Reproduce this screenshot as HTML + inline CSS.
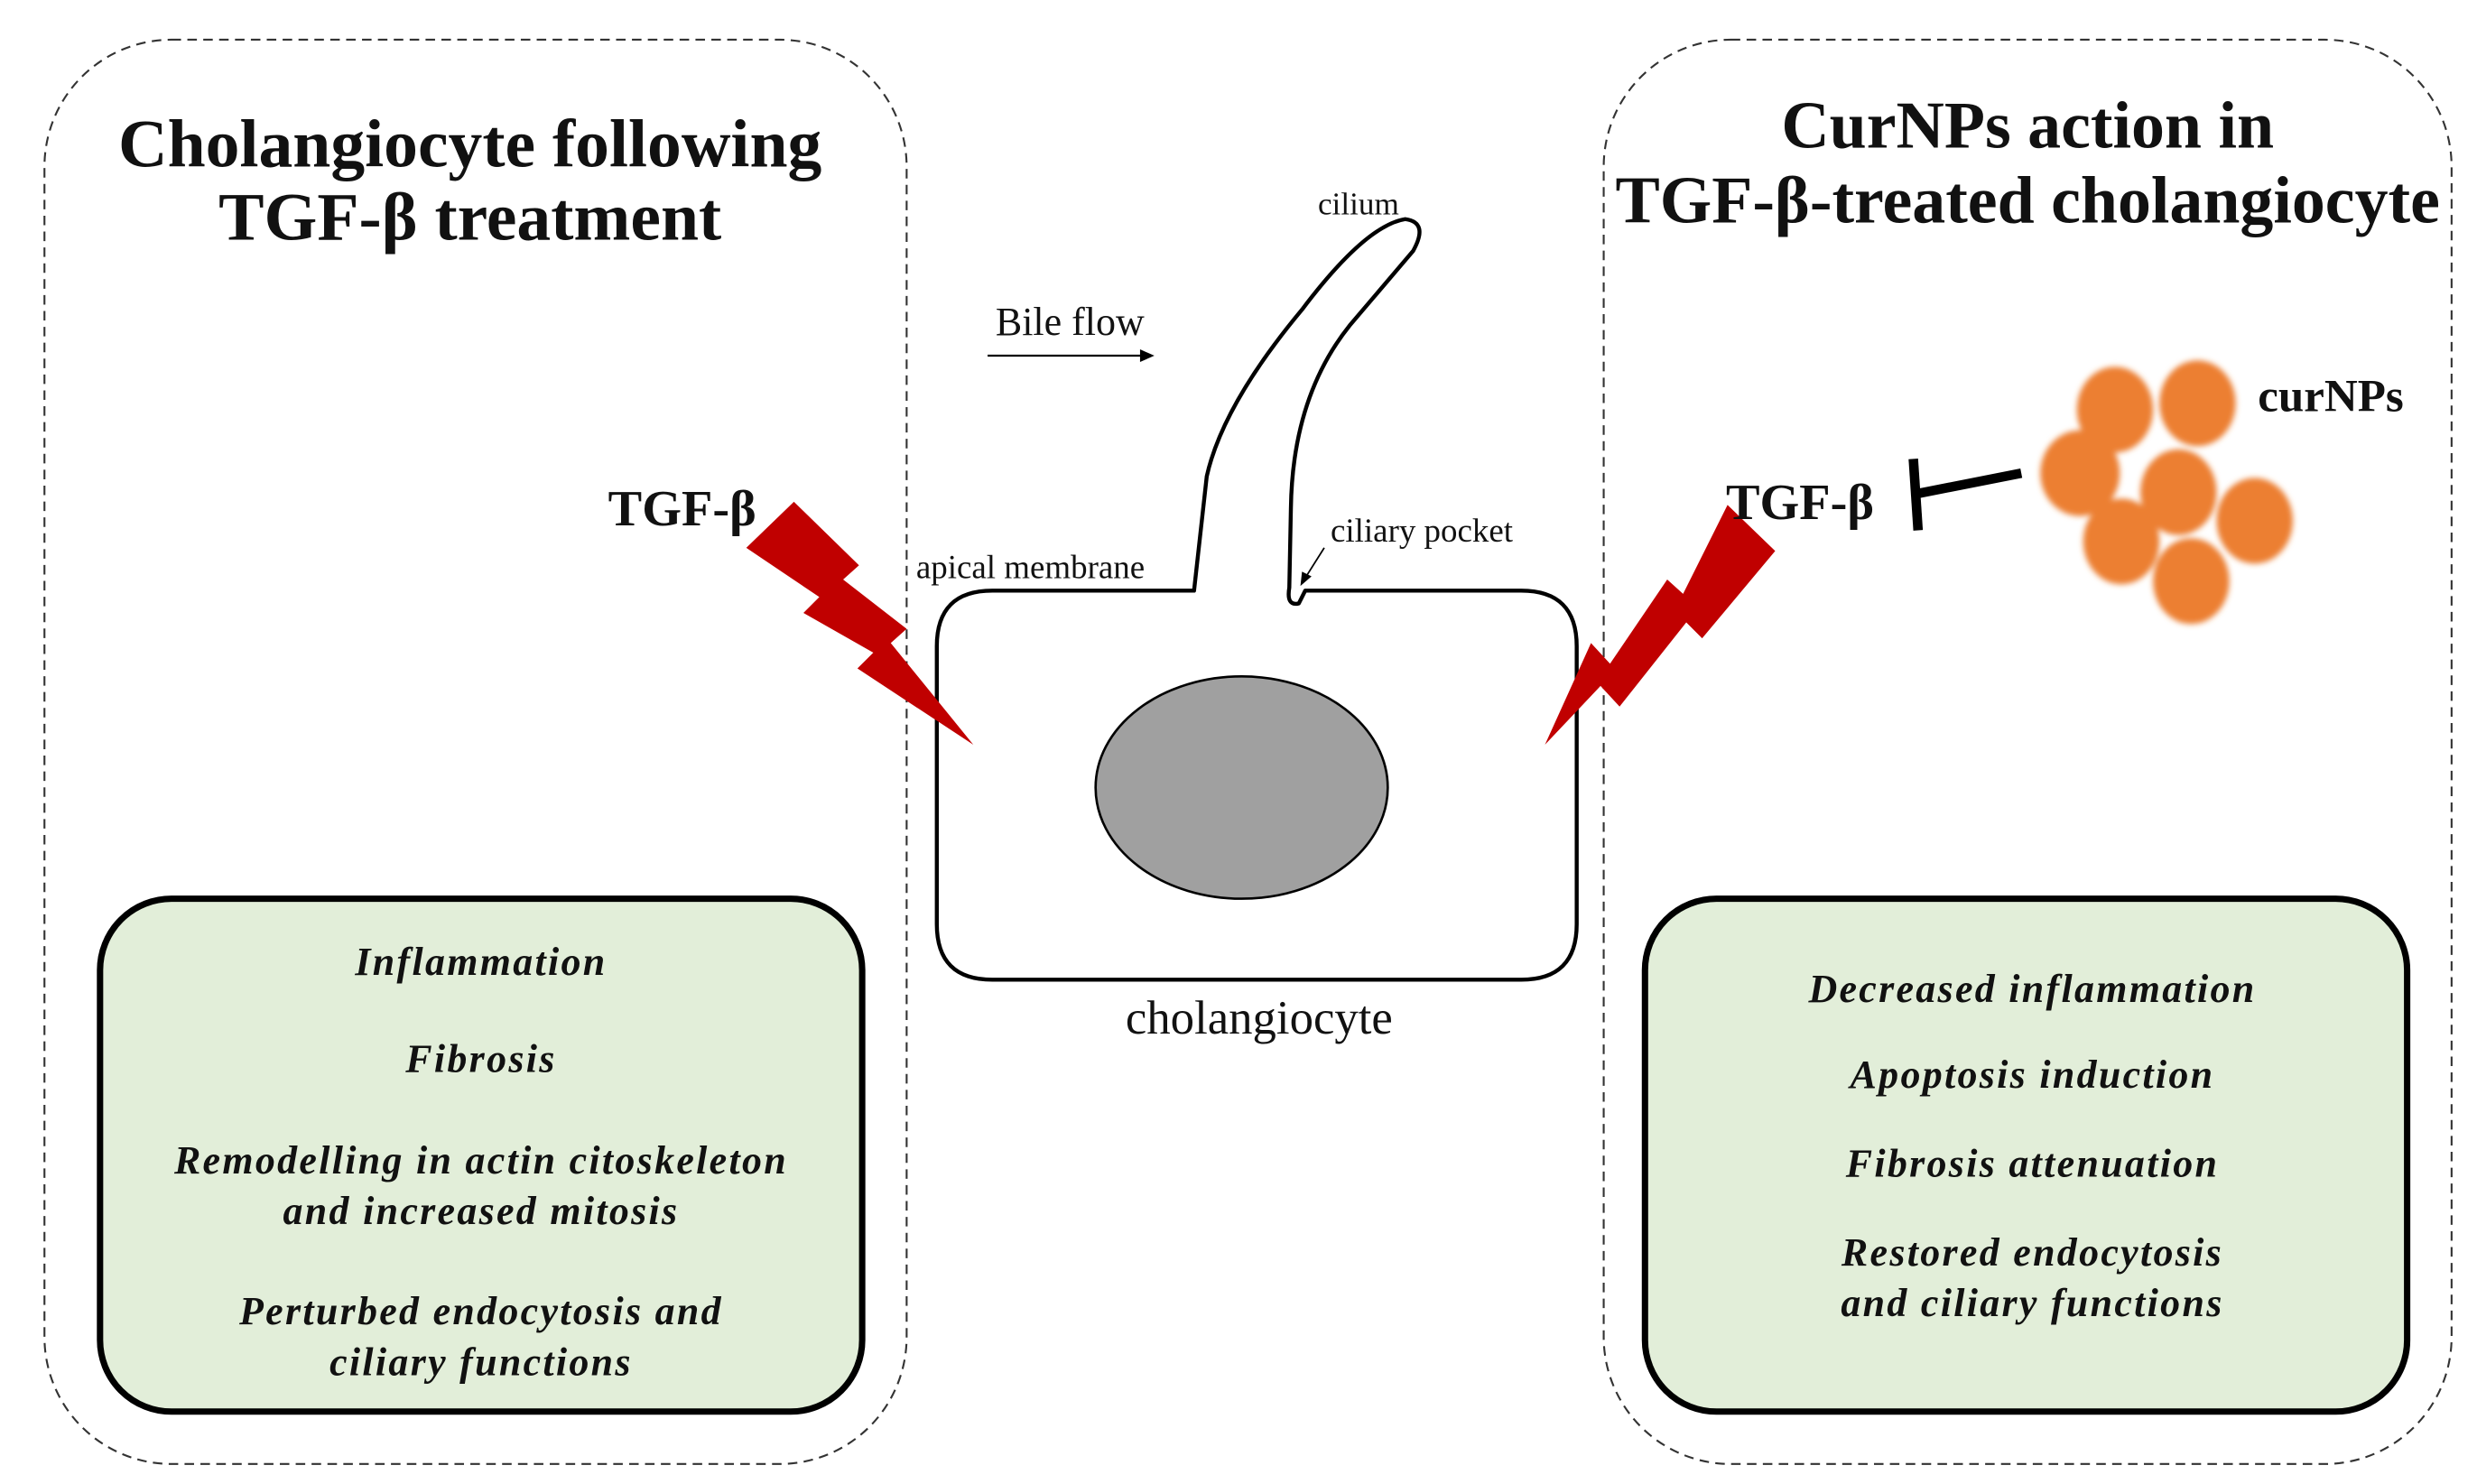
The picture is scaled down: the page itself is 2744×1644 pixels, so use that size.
<!DOCTYPE html>
<html><head><meta charset="utf-8"><style>
html,body{margin:0;padding:0;background:#fff;}
svg{display:block;}
text{font-family:"Liberation Serif",serif;fill:#111;}
</style></head><body>
<svg width="2744" height="1644" viewBox="0 0 1560 934.6" preserveAspectRatio="none" xmlns="http://www.w3.org/2000/svg">
<defs><filter id="bl" x="-30%" y="-30%" width="160%" height="160%"><feGaussianBlur stdDeviation="1.8"/></filter></defs>
<rect width="1560" height="935" fill="#fff"/>
<!-- dashed panels -->
<rect x="28" y="25" width="543" height="897" rx="80" fill="none" stroke="#333" stroke-width="1.2" stroke-dasharray="6,4"/>
<rect x="1010" y="25" width="534" height="897" rx="80" fill="none" stroke="#333" stroke-width="1.2" stroke-dasharray="6,4"/>
<!-- green boxes -->
<rect x="63" y="566" width="480" height="323" rx="45" fill="#e2eed9" stroke="#000" stroke-width="4"/>
<rect x="1036" y="566" width="480" height="323" rx="45" fill="#e2eed9" stroke="#000" stroke-width="4"/>
<!-- cell -->
<path d="M752,372 L625,372 Q590,372 590,407 L590,582 Q590,617 625,617 L958,617 Q993,617 993,582 L993,407 Q993,372 958,372 L822,372 L818,380 Q810,382 812,370 L813,320 Q814,250 850,205 L890,158 Q900,140 885,138 Q860,142 820,195 Q770,255 760,300 Z" fill="#fff" stroke="#000" stroke-width="2.5" stroke-linejoin="round"/>
<ellipse cx="782" cy="496" rx="92" ry="70" fill="#a0a0a0" stroke="#000" stroke-width="1.5"/>
<!-- bile flow arrow -->
<line x1="622" y1="224" x2="720" y2="224" stroke="#000" stroke-width="1.3"/>
<polygon points="727,224 718,220 718,228" fill="#000"/>
<!-- ciliary pocket arrow -->
<line x1="834" y1="345" x2="822" y2="364" stroke="#000" stroke-width="1"/>
<polygon points="819,369 820,360 826,363" fill="#000"/>
<!-- lightning bolts -->
<polygon points="470,345 500,316 541,356 531,365 571,396 561,405 613,469 540,421 550,411 506,386 516,376" fill="#c00000"/>
<polygon points="1088,318 1118,347 1072,402 1062,392 1020,445 1008,432 973,469 1002,405 1014,418 1050,365 1060,374" fill="#c00000"/>
<!-- inhibition -->
<line x1="1273" y1="298" x2="1207" y2="311" stroke="#000" stroke-width="6"/>
<line x1="1205" y1="289" x2="1208" y2="334" stroke="#000" stroke-width="6"/>
<!-- curNPs -->
<g fill="#ec7f32" filter="url(#bl)">
<ellipse cx="1332" cy="258" rx="24" ry="27"/>
<ellipse cx="1384" cy="254" rx="24" ry="27"/>
<ellipse cx="1310" cy="298" rx="25" ry="27"/>
<ellipse cx="1372" cy="310" rx="24" ry="27"/>
<ellipse cx="1420" cy="328" rx="24" ry="27"/>
<ellipse cx="1336" cy="341" rx="24" ry="27"/>
<ellipse cx="1380" cy="366" rx="24" ry="27"/>
</g>
<!-- titles -->
<g font-weight="bold" text-anchor="middle">
<text x="296" y="105" font-size="43">Cholangiocyte following</text>
<text x="296" y="151" font-size="43">TGF-β treatment</text>
<text x="1277" y="93" font-size="42">CurNPs action in</text>
<text x="1277" y="140" font-size="42">TGF-β-treated cholangiocyte</text>
</g>
<text x="383" y="331" font-size="32" font-weight="bold">TGF-β</text>
<text x="1087" y="327" font-size="32" font-weight="bold">TGF-β</text>
<text x="1422" y="259" font-size="29" font-weight="bold">curNPs</text>
<text x="830" y="135" font-size="20">cilium</text>
<text x="627" y="211" font-size="25">Bile flow</text>
<text x="577" y="364" font-size="21">apical membrane</text>
<text x="838" y="341" font-size="21">ciliary pocket</text>
<text x="793" y="651" font-size="30" text-anchor="middle">cholangiocyte</text>
<g font-style="italic" font-size="25" text-anchor="middle" font-weight="bold" style="letter-spacing:1.3px">
<text x="303" y="614">Inflammation</text>
<text x="303" y="675">Fibrosis</text>
<text x="303" y="739">Remodelling in actin citoskeleton</text>
<text x="303" y="771">and increased mitosis</text>
<text x="303" y="834">Perturbed endocytosis and</text>
<text x="303" y="866">ciliary functions</text>
<text x="1280" y="631">Decreased inflammation</text>
<text x="1280" y="685">Apoptosis induction</text>
<text x="1280" y="741">Fibrosis attenuation</text>
<text x="1280" y="797">Restored endocytosis</text>
<text x="1280" y="829">and ciliary functions</text>
</g>
</svg>
</body></html>
